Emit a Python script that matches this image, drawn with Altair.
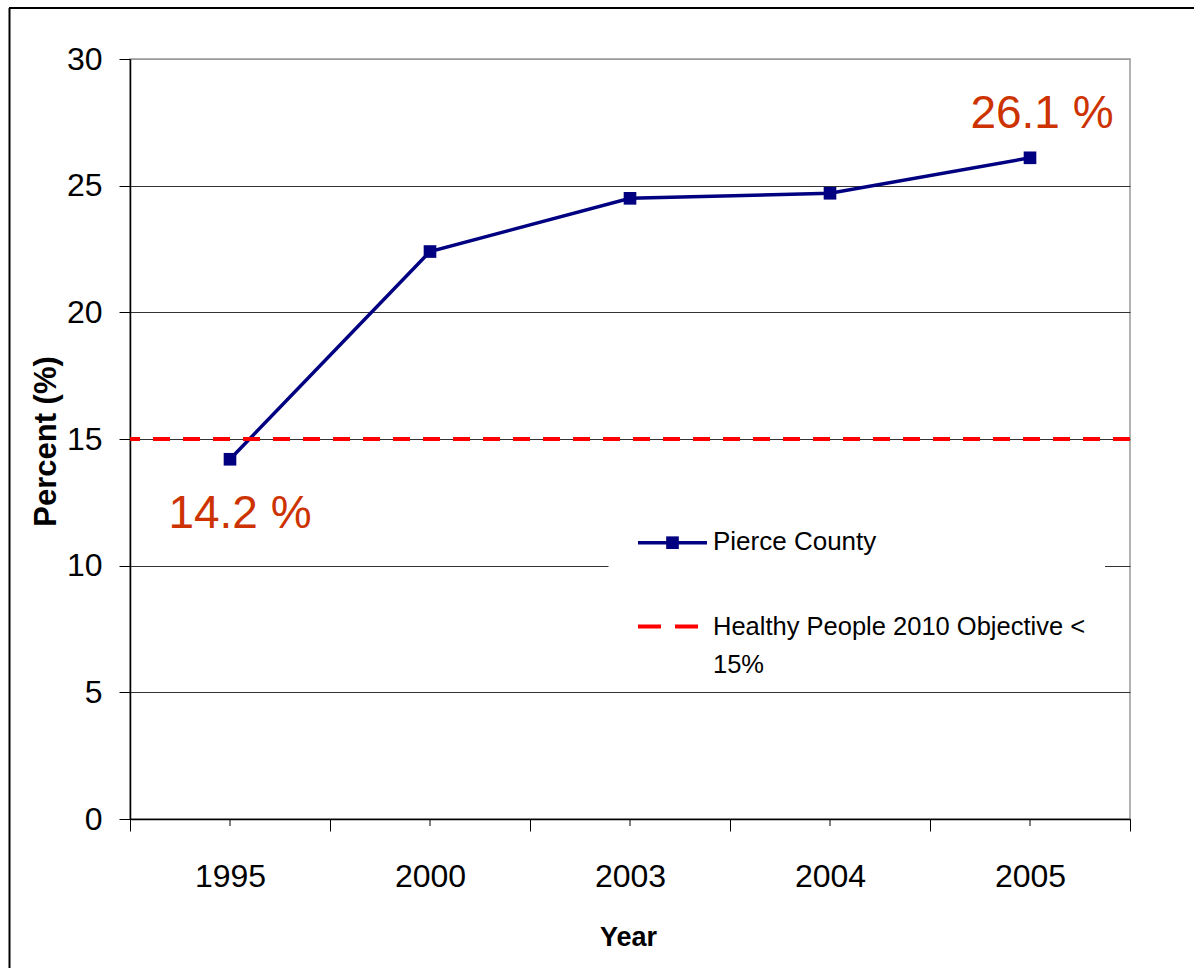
import altair as alt
import pandas as pd

# Obesity trend, Pierce County, vs. the Healthy People 2010 objective
years = ["1995", "2000", "2003", "2004", "2005"]
pierce_pct = [14.2, 22.4, 24.5, 24.7, 26.1]
objective_pct = [15]
y_ticks = [0, 5, 10, 15, 20, 25, 30]
series_names = ["Pierce County", "Healthy People 2010 Objective < 15%"]

df = pd.DataFrame({"Year": years, "Percent": pierce_pct})
obj = pd.DataFrame({"Objective": objective_pct})
one = alt.Data(values=[{}])

W, H = 1000, 760
SANS = "Liberation Sans, Arial, sans-serif"
NAVY = "#000080"
RED = "#FF0000"
LABEL_RED = "#CC3300"

x_axis = alt.Axis(
    title="Year", labelAngle=0, tickBand="extent", tickSize=12, tickColor="#000000",
    domainColor="#000000", domainWidth=1.5, grid=False,
    labelFont=SANS, labelFontSize=32, labelColor="#000000",
    labelBaseline="alphabetic", labelPadding=55,
    titleFont=SANS, titleFontSize=27, titleFontWeight="bold", titleColor="#000000",
    titleBaseline="alphabetic", titleX=498, titleY=126,
)
y_axis = alt.Axis(
    values=y_ticks, title="Percent (%)", tickSize=11, tickColor="#000000",
    domainColor="#000000", domainWidth=1.5,
    labelFont=SANS, labelFontSize=32, labelColor="#000000", labelPadding=17,
    gridColor={"condition": {"test": "datum.value === 30", "value": "#999999"}, "value": "#333333"},
    gridWidth=1,
    titleFont=SANS, titleFontSize=31, titleFontWeight="bold", titleColor="#000000",
    titleAngle=270, titleBaseline="alphabetic", titleAlign="center", titleX=-75, titleY=382,
)

x_enc = alt.X("Year:O", sort=years, bandPosition=0.5,
              scale=alt.Scale(type="band", paddingInner=0, paddingOuter=0), axis=x_axis)
y_enc = alt.Y("Percent:Q", scale=alt.Scale(domain=[0, 30], nice=False), axis=y_axis)
x_plain = alt.X("Year:O", sort=years, bandPosition=0.5)
y_plain = alt.Y("Percent:Q")

base = alt.Chart(df)

line = base.mark_line(color=NAVY, strokeWidth=3.5).encode(x=x_enc, y=y_enc)
points = base.mark_point(shape="square", filled=True, size=160, color=NAVY, opacity=1).encode(
    x=x_plain, y=y_plain)

# minor ticks at category centres
center_ticks = base.mark_rule(color="#000000", strokeWidth=1).encode(
    x=x_plain, y=alt.value(H), y2=alt.value(H + 7))

objective = alt.Chart(obj).mark_rule(color=RED, strokeWidth=4, strokeDash=[17, 13]).encode(
    y="Objective:Q")

labelled = base.transform_calculate(label="format(datum.Percent, '.1f') + ' %'")
label_first = labelled.transform_filter(alt.datum.Year == years[0]).mark_text(
    font=SANS, fontSize=46, color=LABEL_RED, dx=10, dy=69, baseline="alphabetic", align="center"
).encode(x=x_plain, y=y_plain, text="label:N")
label_last = labelled.transform_filter(alt.datum.Year == years[-1]).mark_text(
    font=SANS, fontSize=46, color=LABEL_RED, dx=12, dy=-30, baseline="alphabetic", align="center"
).encode(x=x_plain, y=y_plain, text="label:N")

# outer frame
frame_left = alt.Chart(one).mark_rule(color="#000000", strokeWidth=2).encode(
    x=alt.value(-120.5), y=alt.value(-51), y2=alt.value(H + 200))
frame_top = alt.Chart(one).mark_rule(color="#000000", strokeWidth=2).encode(
    y=alt.value(-51), x=alt.value(-121), x2=alt.value(W + 100))

# legend panel
legend_bg = alt.Chart(one).mark_rect(color="white").encode(
    x=alt.value(478.5), x2=alt.value(975), y=alt.value(436), y2=alt.value(629))
leg_line = alt.Chart(one).mark_rule(color=NAVY, strokeWidth=3.5).encode(
    x=alt.value(508), x2=alt.value(577), y=alt.value(483.7))
leg_mark = alt.Chart(one).mark_point(shape="square", filled=True, size=160, color=NAVY, opacity=1).encode(
    x=alt.value(542.5), y=alt.value(483.7))
leg_text1 = alt.Chart(one).mark_text(
    font=SANS, fontSize=26, color="#000000", align="left", baseline="alphabetic"
).encode(x=alt.value(583), y=alt.value(490.7), text=alt.value(series_names[0]))
leg_dash = alt.Chart(one).mark_rule(color=RED, strokeWidth=4, strokeDash=[23, 14]).encode(
    x=alt.value(508), x2=alt.value(568), y=alt.value(567.4))
leg_text2 = alt.Chart(one).mark_text(
    font=SANS, fontSize=25.5, color="#000000", align="left", baseline="alphabetic", lineHeight=38
).encode(x=alt.value(583), y=alt.value(575.7),
         text=alt.value(["Healthy People 2010 Objective <", "15%"]))

chart = alt.layer(
    line, legend_bg, frame_left, frame_top, center_ticks, objective,
    leg_line, leg_mark, leg_text1, leg_dash, leg_text2,
    points, label_first, label_last,
).properties(
    width=W, height=H,
    padding={"left": 130, "top": 59, "right": 64, "bottom": 149},
    autosize=alt.AutoSizeParams(type="none"),
    background="white",
).configure_view(stroke="#999999", strokeWidth=1.5)

chart.save("out.html", embed_options={"renderer": "svg", "actions": False})
